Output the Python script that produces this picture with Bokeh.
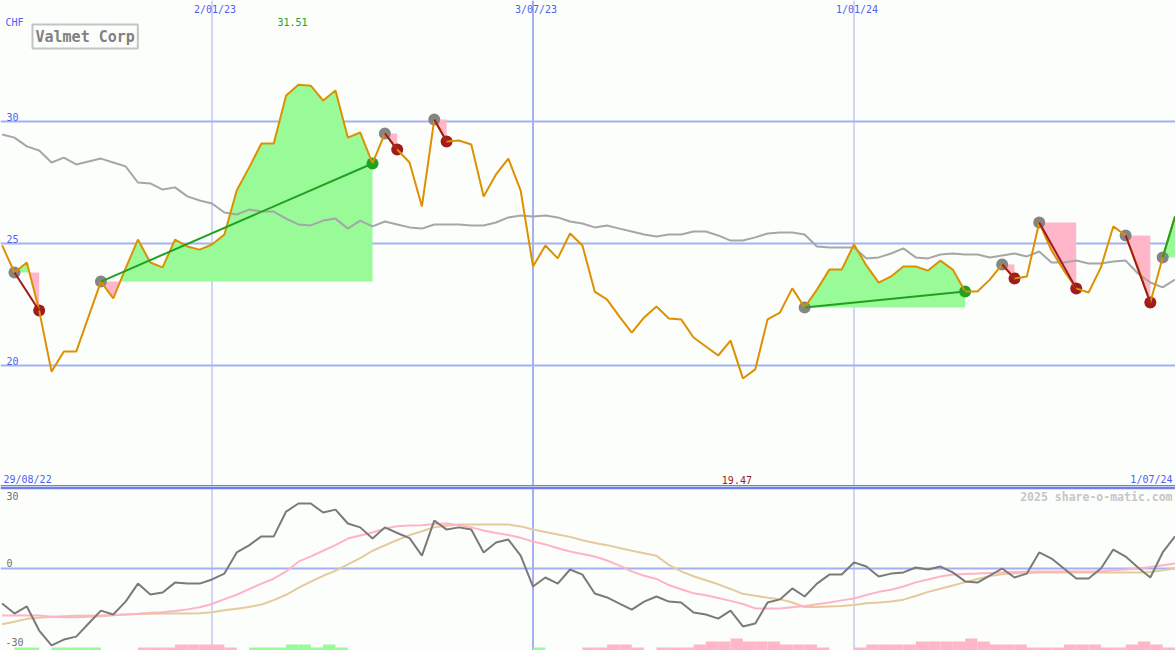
import numpy as np
import pandas as pd
from bokeh.plotting import figure
from bokeh.models import Range1d, Span, Label
from bokeh.layouts import column
from bokeh.embed import file_html
from bokeh.resources import INLINE

# ---------------- data (weekly closes, first week 5/09/22) ----------------
first_week = "2022-09-05"
price = [24.92, 23.81, 24.22, 22.25, 19.75, 20.57, 20.57, 22.00, 23.44, 22.75,
         23.98, 25.16, 24.22, 24.02, 25.16, 24.88, 24.75, 24.96, 25.37, 27.17,
         28.11, 29.10, 29.10, 31.07, 31.51, 31.47, 30.86, 31.27, 29.34, 29.55,
         28.28, 29.51, 28.85, 28.32, 26.52, 30.08, 29.18, 29.22, 29.06, 26.93,
         27.83, 28.48, 27.17, 24.06, 24.92, 24.39, 25.41, 24.92, 23.03, 22.70,
         22.00, 21.35, 21.97, 22.42, 21.93, 21.89, 21.15, 20.78, 20.41, 21.02,
         19.47, 19.84, 21.89, 22.17, 23.16, 22.38, 23.11, 23.93, 23.93, 24.96,
         24.10, 23.40, 23.65, 24.06, 24.06, 23.89, 24.30, 23.93, 23.03, 23.03,
         23.52, 24.14, 23.57, 23.65, 25.86, 24.71, 23.89, 23.16, 22.99, 24.02,
         25.70, 25.33, 24.02, 22.58, 24.43, 26.11]
price_avg = [29.47, 29.34, 28.98, 28.81, 28.32, 28.52, 28.24, 28.36, 28.48, 28.32,
             28.16, 27.50, 27.46, 27.21, 27.30, 26.93, 26.76, 26.64, 26.27, 26.19,
             26.39, 26.31, 26.31, 26.02, 25.78, 25.74, 25.94, 26.02, 25.61, 25.94,
             25.70, 25.90, 25.78, 25.66, 25.61, 25.78, 25.78, 25.78, 25.74, 25.74,
             25.86, 26.07, 26.15, 26.11, 26.15, 26.07, 25.90, 25.82, 25.66, 25.74,
             25.61, 25.49, 25.37, 25.29, 25.37, 25.37, 25.49, 25.49, 25.33, 25.12,
             25.12, 25.25, 25.41, 25.45, 25.45, 25.37, 24.88, 24.84, 24.84, 24.84,
             24.39, 24.43, 24.59, 24.80, 24.43, 24.39, 24.55, 24.59, 24.55, 24.55,
             24.43, 24.51, 24.59, 24.47, 24.67, 24.22, 24.22, 24.30, 24.18, 24.18,
             24.26, 24.30, 23.77, 23.40, 23.20, 23.52]
momentum = [-14.4, -18.5, -15.6, -25.5, -31.6, -29.2, -28.0, -22.6, -17.3, -18.9,
            -13.6, -6.2, -10.7, -9.9, -5.8, -6.2, -6.2, -4.5, -2.1, 6.6,
            9.5, 13.2, 13.2, 23.4, 26.7, 26.7, 23.0, 24.2, 18.5, 16.9,
            12.3, 16.9, 14.6, 12.5, 5.3, 19.7, 16.0, 16.9, 16.0, 6.6,
            10.7, 11.9, 5.3, -7.4, -3.7, -6.2, -0.4, -2.5, -10.3, -11.9,
            -14.4, -16.9, -13.6, -11.5, -13.6, -14.0, -18.1, -18.9, -20.6, -17.3,
            -23.8, -22.6, -14.0, -12.7, -8.2, -11.5, -6.2, -2.5, -2.5, 2.5,
            0.8, -3.3, -2.1, -1.6, 0.4, -0.4, 0.8, -1.6, -5.3, -5.8,
            -2.9, 0.0, -3.7, -2.1, 6.6, 4.1, 0.0, -4.1, -4.1, 0.0,
            7.8, 4.9, 0.4, -3.7, 6.6, 13.2]
momentum_fast = [-19.3, -19.3, -19.3, -19.3, -19.8, -20.0, -20.0, -19.8, -19.6, -19.2,
                 -18.9, -18.6, -18.2, -18.0, -17.5, -16.8, -15.9, -14.6, -12.6, -10.8,
                 -8.5, -6.2, -4.2, -1.2, 2.8, 5.0, 7.3, 9.6, 12.3, 13.6,
                 14.8, 16.4, 17.4, 17.7, 17.8, 18.3, 18.5, 17.8, 16.9, 15.6,
                 14.6, 13.8, 12.6, 11.1, 9.9, 8.3, 7.0, 6.0, 4.9, 3.3,
                 1.2, -1.2, -3.0, -4.3, -6.8, -8.5, -10.2, -11.0, -12.1, -13.3,
                 -14.6, -16.4, -16.4, -16.4, -15.9, -15.4, -14.7, -14.0, -13.1, -12.3,
                 -10.9, -9.6, -8.7, -7.4, -5.7, -4.5, -3.3, -2.5, -2.3, -2.1,
                 -1.8, -1.6, -1.4, -1.3, -1.2, -1.2, -1.2, -1.2, -1.2, -1.2,
                 -0.7, -0.4, 0.0, 0.6, 1.3, 2.1]
momentum_slow = [-22.9, -21.9, -20.7, -20.2, -19.8, -19.6, -19.4, -19.3, -19.3, -19.1,
                 -18.9, -18.7, -18.6, -18.5, -18.5, -18.5, -18.4, -18.0, -17.2, -16.5,
                 -15.8, -14.8, -13.0, -10.8, -8.0, -5.4, -3.0, -1.0, 1.7, 4.3,
                 7.3, 9.5, 11.7, 13.7, 15.3, 17.0, 17.6, 18.1, 18.1, 18.1,
                 18.1, 18.1, 17.3, 16.0, 15.0, 14.0, 13.0, 11.6, 10.5, 9.6,
                 8.4, 7.3, 6.3, 5.2, 1.5, -1.2, -3.2, -4.8, -6.5, -8.4,
                 -10.4, -11.2, -12.0, -12.6, -14.0, -15.8, -15.8, -15.6, -15.4, -15.0,
                 -14.3, -14.0, -13.6, -12.8, -11.3, -9.6, -8.3, -7.0, -5.6, -4.3,
                 -3.1, -2.4, -2.0, -1.8, -1.6, -1.6, -1.6, -1.6, -1.6, -1.6,
                 -1.6, -1.6, -1.6, -1.4, -0.7, 0.0]
trend_hist = [0, 1, 1, 0, 1, 1, 1, 1, 0, 0,
              0, -1, -1, -1, -2, -2, -2, -2, -1, 0,
              1, 1, 1, 2, 2, 1, 2, 1, 0, 0,
              0, 0, 0, 0, 0, 0, 0, 0, 0, 0,
              0, 0, 0, 1, 0, 0, 0, -1, -1, -2,
              -2, -1, 0, -1, -1, -1, -2, -3, -3, -4,
              -3, -3, -3, -2, -2, -2, -1, 0, 0, -1,
              -2, -2, -2, -2, -3, -3, -3, -3, -4, -3,
              -2, -2, -2, -1, -1, -1, -2, -2, -2, -1,
              -1, -2, -3, -2, -1, 0]
signal_start = [2, 9, 32, 36, 66, 82, 85, 92, 95]    # week numbers (1 = first week)
signal_end = [4, 31, 33, 37, 79, 83, 88, 94, 96]
signal_open = [False, False, False, False, False, False, False, False, True]
grid_dates = ["2023-01-02", "2023-07-03", "2024-01-01"]
grid_labels = ["2/01/23", "3/07/23", "1/01/24"]
range_labels = ["29/08/22", "1/07/24"]
price_ticks = [20, 25, 30]
momentum_ticks = [-30, 0, 30]
currency = "CHF"
title = "Valmet Corp"
credit = "2025 share-o-matic.com"

# ---------------- styles ----------------
BG = "#fcfefc"
GRID = "#a3b1f2"
SEP = "#6f80e6"
BLUE = "#4f5ff0"
FONT = "DejaVu Sans Mono"
PRICE_C = "#dc9100"
AVG_C = "#a6a6a6"
GREEN_FILL = "#98fb98"
PINK_FILL = "#ffb6c8"
GAIN = "#22a022"
LOSS = "#a01c1c"
START_C = "#858585"

W, H1, H2 = 1175, 486, 164
DAY = 86400000.0


def ms(d):
    return pd.Timestamp(d).value / 1e6


def top_y(py):
    return 486 - py


def bot_y(py):
    return 650 - py


x = np.array([ms(d) for d in pd.date_range(first_week, periods=len(price), freq="7D")])
pr = np.array(price)
x_start = ms("2022-08-29") + 6.35 * DAY
x_end = ms("2024-07-01") + 0.56 * DAY
half_px = 0.5 * (x_end - x_start) / W
x_start -= half_px
x_end -= half_px


def make_fig(h, yr):
    p = figure(width=W, height=h, x_range=Range1d(x_start, x_end), y_range=yr,
               output_backend="svg", toolbar_location=None, min_border=0,
               x_axis_location=None, y_axis_location=None)
    p.grid.visible = False
    p.outline_line_color = None
    p.background_fill_color = BG
    p.border_fill_color = BG
    return p


def lab(p, text, xx, yy, xu="screen", yu="screen", color=BLUE, size="10px",
        align="left", style="normal", x_offset=0):
    p.add_layout(Label(x=xx, y=yy, x_units=xu, y_units=yu, text=text, text_color=color,
                       text_font=FONT, text_font_size=size, text_align=align,
                       text_baseline="middle", text_font_style=style, x_offset=x_offset))


# ---------------- price panel ----------------
p1 = make_fig(H1, Range1d(15.041, 34.959))
for d, lw in zip(grid_dates, [1, 2, 1]):
    p1.add_layout(Span(location=ms(d), dimension="height", line_color=GRID,
                       line_width=lw, level="underlay"))
for v in price_ticks:
    p1.add_layout(Span(location=v, dimension="width", line_color=GRID,
                       line_width=2, level="underlay"))
p1.add_layout(Span(location=15.041, dimension="width", line_color=SEP, line_width=3,
                   level="underlay"))

# signal fills
for s, e in zip(signal_start, signal_end):
    i0, i1 = s - 1, e - 1
    L = pr[i0]
    xs, ys = [x[i0]], [pr[i0]]
    for i in range(i0, i1):
        a, b = pr[i] - L, pr[i + 1] - L
        if a * b < 0:
            t = a / (a - b)
            xs.append(x[i] + t * (x[i + 1] - x[i]))
            ys.append(L)
        xs.append(x[i + 1])
        ys.append(pr[i + 1])
    ys = np.array(ys)
    lv = np.full(len(xs), L)
    p1.varea(x=xs, y1=lv, y2=np.maximum(ys, L), fill_color=GREEN_FILL, fill_alpha=1)
    p1.varea(x=xs, y1=np.minimum(ys, L), y2=lv, fill_color=PINK_FILL, fill_alpha=1)

p1.line(x, price_avg, line_color=AVG_C, line_width=2)

si = np.array(signal_start) - 1
ei = np.array(signal_end) - 1
p1.scatter(x[si], pr[si], size=12, fill_color=START_C, line_color=None)
closed = ~np.array(signal_open)
end_cols = [GAIN if pr[b] > pr[a] else LOSS for a, b in zip(si, ei)]
p1.scatter(x[ei][closed], pr[ei][closed], size=12,
           fill_color=list(np.array(end_cols)[closed]), line_color=None)

p1.line(x, price, line_color=PRICE_C, line_width=2)
p1.segment(x0=x[si], y0=pr[si], x1=x[ei], y1=pr[ei], line_color=end_cols, line_width=2)

# texts
lab(p1, currency, 5, top_y(21.5))
for d, t in zip(grid_dates, grid_labels):
    lab(p1, t, ms(d), top_y(9), xu="data", align="center", x_offset=3)
for v in price_ticks:
    lab(p1, str(v), 6, v + 0.2, yu="data")
imax, imin = int(np.argmax(pr)), int(np.argmin(pr))
lab(p1, f"{pr[imax]:.2f}", x[imax], top_y(21), xu="data", align="center",
    color=GAIN, x_offset=-6)
lab(p1, f"{pr[imin]:.2f}", x[imin], top_y(479), xu="data", align="center",
    color=LOSS, x_offset=-6)
lab(p1, range_labels[0], 3, top_y(479))
lab(p1, range_labels[1], 1172, top_y(479), align="right")
p1.add_layout(Label(x=32, y=top_y(48), x_units="screen", y_units="screen",
                    text=title, text_color="#808080", text_font=FONT,
                    text_font_size="15px", text_font_style="bold",
                    text_baseline="bottom", text_align="left",
                    border_line_color="#c4c4c4", border_line_width=2,
                    background_fill_color=BG, padding=3))

# ---------------- momentum panel ----------------
p2 = make_fig(H2, Range1d(-33.7, 33.7))
for d, lw in zip(grid_dates, [1, 2, 1]):
    p2.add_layout(Span(location=ms(d), dimension="height", line_color=GRID,
                       line_width=lw, level="underlay"))
p2.add_layout(Span(location=0, dimension="width", line_color=GRID, line_width=2,
                   level="underlay"))
p2.add_layout(Span(location=33.17, dimension="width", line_color=SEP, line_width=3))

hist = np.array(trend_hist)
unit = 3.0 / 2.4333
nz = hist != 0
p2.vbar(x=(x + 3.5 * DAY)[nz], width=7 * DAY, bottom=-33.7,
        top=(-33.7 + np.abs(hist) * unit)[nz],
        fill_color=[GREEN_FILL if h > 0 else PINK_FILL for h in hist[nz]], line_color=None)
p2.line(x, momentum_slow, line_color="#e3cb9b", line_width=2)
p2.line(x, momentum_fast, line_color="#ffb3c6", line_width=2)
p2.line(x, momentum, line_color="#7a7a7a", line_width=2)

lab(p2, str(momentum_ticks[2]), 6, momentum_ticks[2] - 0.4, yu="data", color="#707070")
lab(p2, str(momentum_ticks[1]), 6, momentum_ticks[1] + 2.3, yu="data", color="#707070")
lab(p2, str(momentum_ticks[0]), 5, momentum_ticks[0] - 0.2, yu="data", color="#707070")
lab(p2, credit, 1172, bot_y(496.5), align="right", color="#c6c6c6",
    size="11.5px", style="bold")

layout = column(p1, p2, spacing=0)
open("out.html", "w").write(file_html(layout, INLINE))
